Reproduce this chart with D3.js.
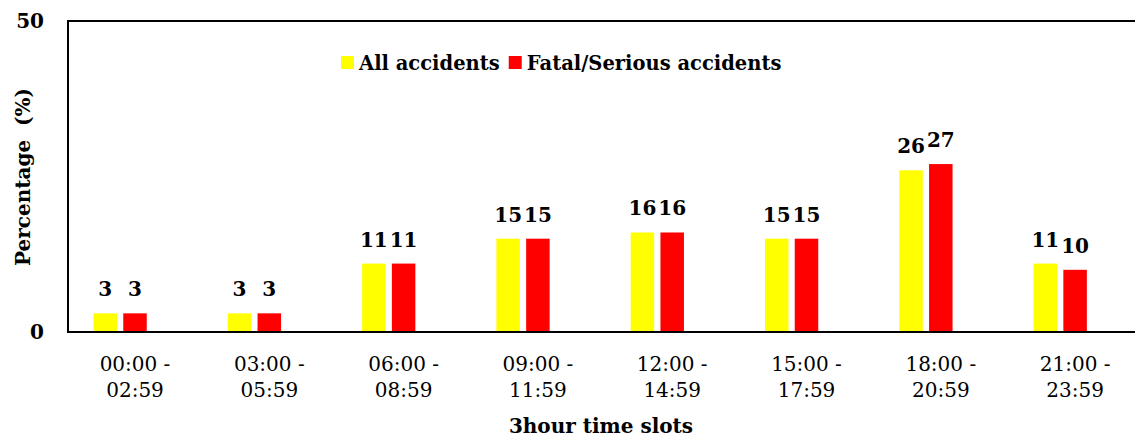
<!DOCTYPE html>
<html>
<head>
<meta charset="utf-8">
<script src="https://cdn.jsdelivr.net/npm/d3@7"></script>
<style>
  body { margin: 0; background: #fff; }
  svg { display: block; font-family: "DejaVu Serif", "Liberation Serif", serif; }
</style>
</head>
<body>
<div id="chart"></div>
<script>
const categories = ["00:00 - 02:59", "03:00 - 05:59", "06:00 - 08:59", "09:00 - 11:59",
                    "12:00 - 14:59", "15:00 - 17:59", "18:00 - 20:59", "21:00 - 23:59"];
const allAccidents = [3, 3, 11, 15, 16, 15, 26, 11];
const fatalSerious = [3, 3, 11, 15, 16, 15, 27, 10];
const seriesNames = ["All accidents", "Fatal/Serious accidents"];
const seriesColors = ["#ffff00", "#ff0000"];
const yTicks = [0, 50];

const width = 1135, height = 439;
const margin = { top: 21, right: 0, bottom: 107, left: 68 };

const svg = d3.select("#chart").append("svg")
    .attr("width", width)
    .attr("height", height);

// plot area runs a little past the right edge of the picture (cropped)
const x = d3.scaleBand()
    .domain(categories)
    .range([67.85, 1142.25])
    .padding(0);

// excel keeps an empty third slot, so the red bar sits on the category centre
const inner = d3.scaleBand()
    .domain([0, 1, 2])
    .range([-41.5, 41.5])
    .paddingInner(0.21);

const y = d3.scaleLinear()
    .domain([0, 50])
    .range([height - margin.bottom, margin.top]);

const rows = categories.map((c, i) => ({ cat: c, values: [allAccidents[i], fatalSerious[i]] }));

// bars
const groups = svg.append("g")
    .selectAll("g")
    .data(rows)
    .enter().append("g")
    .attr("transform", d => `translate(${x(d.cat) + x.bandwidth() / 2},0)`);

groups.selectAll("rect")
    .data(d => d.values)
    .enter().append("rect")
    .attr("x", (d, i) => inner(i))
    .attr("width", inner.bandwidth())
    .attr("y", d => y(d))
    .attr("height", d => y(0) - y(d))
    .attr("fill", (d, i) => seriesColors[i]);

groups.selectAll("text")
    .data(d => d.values)
    .enter().append("text")
    .attr("x", (d, i) => inner(i) + inner.bandwidth() / 2)
    .attr("y", d => y(d) - 17)
    .attr("text-anchor", "middle")
    .style("font-size", "20px")
    .style("font-weight", "bold")
    .text(d => d);

// axes
svg.append("line")
    .attr("x1", margin.left).attr("x2", width)
    .attr("y1", y(50)).attr("y2", y(50))
    .attr("stroke", "#000").attr("stroke-width", 2);

svg.append("line")
    .attr("x1", margin.left).attr("x2", width)
    .attr("y1", y(0)).attr("y2", y(0))
    .attr("stroke", "#000").attr("stroke-width", 2);

svg.append("line")
    .attr("x1", margin.left).attr("x2", margin.left)
    .attr("y1", y(50) - 1).attr("y2", y(0) + 1)
    .attr("stroke", "#000").attr("stroke-width", 2);

const yAxis = svg.append("g")
    .attr("transform", `translate(${margin.left},0)`)
    .call(d3.axisLeft(y).tickValues(yTicks).tickSize(0).tickPadding(24));
yAxis.select(".domain").remove();
yAxis.selectAll("text")
    .style("font-family", "DejaVu Serif")
    .style("font-size", "20px")
    .style("font-weight", "bold")
    .attr("fill", "#000");

const xAxis = svg.append("g")
    .attr("transform", `translate(0,${y(0)})`)
    .call(d3.axisBottom(x).tickSize(0));
xAxis.select(".domain").remove();
xAxis.selectAll("text").each(function (d) {
    const t = d3.select(this).text("").attr("y", 0).attr("dy", null)
        .style("font-family", "DejaVu Serif")
        .style("font-size", "20px")
        .attr("fill", "#000");
    const parts = d.split(" - ");
    t.append("tspan").attr("x", 0).attr("y", 39).text(parts[0] + " -");
    t.append("tspan").attr("x", 0).attr("y", 65).text(parts[1]);
});

// axis titles
svg.append("text")
    .attr("x", 601)
    .attr("y", 433)
    .attr("text-anchor", "middle")
    .style("font-size", "20px")
    .style("font-weight", "bold")
    .text("3hour time slots");

svg.append("text")
    .attr("transform", "translate(30,177) rotate(-90)")
    .attr("text-anchor", "middle")
    .style("font-size", "20px")
    .style("font-weight", "bold")
    .style("white-space", "pre")
    .text("Percentage  (%)");

// legend
const legend = svg.append("g");
let lx = 341;
seriesNames.forEach((name, i) => {
    legend.append("rect")
        .attr("x", lx).attr("y", 56)
        .attr("width", 13).attr("height", 13)
        .attr("fill", seriesColors[i]);
    const t = legend.append("text")
        .attr("x", lx + 18).attr("y", 70)
        .style("font-size", "19.5px")
        .style("font-weight", "bold")
        .text(name);
    lx += 18 + t.node().getComputedTextLength() + 9;
});
</script>
</body>
</html>
